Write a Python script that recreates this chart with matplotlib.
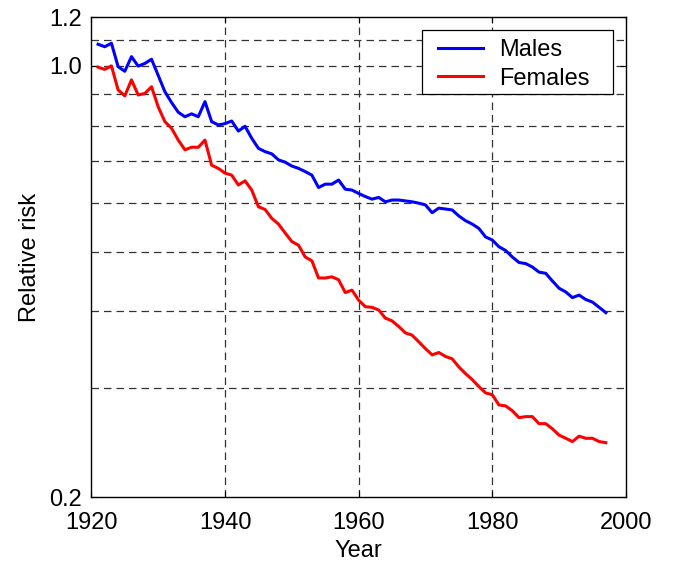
import numpy as np
import matplotlib
matplotlib.use('Agg')
import matplotlib.pyplot as plt
from matplotlib.patches import Rectangle
from matplotlib.ticker import FixedLocator, NullLocator

plt.rcParams['font.family'] = ['Liberation Sans', 'DejaVu Sans']

years = np.arange(1921, 1998)

males = [1.084, 1.074, 1.088, 0.997, 0.980, 1.035, 0.999, 1.009, 1.025, 0.965,
         0.908, 0.872, 0.841, 0.827, 0.836, 0.827, 0.875, 0.812, 0.802, 0.806,
         0.814, 0.784, 0.798, 0.763, 0.735, 0.726, 0.720, 0.704, 0.698, 0.688,
         0.682, 0.674, 0.665, 0.635, 0.643, 0.643, 0.653, 0.631, 0.629, 0.621,
         0.614, 0.608, 0.612, 0.602, 0.606, 0.606, 0.604, 0.602, 0.599, 0.595,
         0.578, 0.588, 0.586, 0.584, 0.571, 0.561, 0.554, 0.545, 0.528, 0.522,
         0.509, 0.502, 0.490, 0.480, 0.478, 0.472, 0.463, 0.461, 0.448, 0.436,
         0.430, 0.421, 0.425, 0.418, 0.414, 0.406, 0.398]

females = [0.995, 0.987, 1.000, 0.914, 0.894, 0.949, 0.897, 0.902, 0.925, 0.858,
           0.812, 0.792, 0.758, 0.731, 0.738, 0.738, 0.758, 0.690, 0.682, 0.670,
           0.665, 0.641, 0.651, 0.629, 0.591, 0.585, 0.566, 0.554, 0.536, 0.519,
           0.512, 0.490, 0.483, 0.453, 0.453, 0.455, 0.450, 0.429, 0.433, 0.417,
           0.407, 0.406, 0.402, 0.390, 0.386, 0.378, 0.369, 0.366, 0.357, 0.348,
           0.340, 0.343, 0.338, 0.335, 0.325, 0.317, 0.310, 0.302, 0.295, 0.293,
           0.282, 0.281, 0.276, 0.269, 0.270, 0.270, 0.263, 0.263, 0.258, 0.252,
           0.249, 0.246, 0.251, 0.249, 0.249, 0.246, 0.245]

xticks = [1920, 1940, 1960, 1980, 2000]
ygrid = [0.3, 0.4, 0.5, 0.6, 0.7, 0.8, 0.9, 1.0, 1.1]
ylabeled = [0.2, 1.0, 1.2]

fs = 17

fig = plt.figure(figsize=(6.73, 5.69), dpi=100)
ax = fig.add_axes([0.1358, 0.1265, 0.7942, 0.8436])

ax.plot(years, males, color='#0000ff', lw=2.2, label='Males')
ax.plot(years, females, color='#ff0000', lw=2.2, label='Females')

ax.set_yscale('log')
ax.set_xlim(1920, 2000)
ax.set_ylim(0.2, 1.2)

ax.set_xticks(xticks)
ax.yaxis.set_major_locator(FixedLocator(ylabeled))
ax.set_yticklabels(['%.1f' % v for v in ylabeled])
ax.yaxis.set_minor_locator(NullLocator())

for v in ygrid:
    ax.axhline(v, color='#333333', lw=0.9, ls=(0, (6, 4)), zorder=0.5)
for v in xticks[1:-1]:
    ax.axvline(v, color='#333333', lw=0.9, ls=(0, (6, 4)), zorder=0.5)

ax.tick_params(direction='in', top=True, right=True, labelsize=fs,
               length=4, width=0.8)
ax.tick_params(axis='x', pad=11)
ax.tick_params(axis='y', pad=6.5)
for s in ax.spines.values():
    s.set_linewidth(1.0)

ax.set_xlabel('Year', fontsize=fs, labelpad=4)
ax.set_ylabel('Relative risk', fontsize=fs, labelpad=6.5)

# legend box drawn separately (wider side margins than matplotlib allows)
ax.add_patch(Rectangle((0.6184, 0.8396), 0.3573, 0.1333, transform=ax.transAxes,
                       facecolor='white', edgecolor='black', lw=0.9, zorder=3))
leg = ax.legend(loc='upper left', bbox_to_anchor=(0.6484, 0.9535),
                borderaxespad=0, borderpad=0, frameon=False, fontsize=fs,
                handlelength=1.9, labelspacing=0.27, handletextpad=0.7)
leg.set_zorder(5)

fig.savefig('out.png', dpi=100)
